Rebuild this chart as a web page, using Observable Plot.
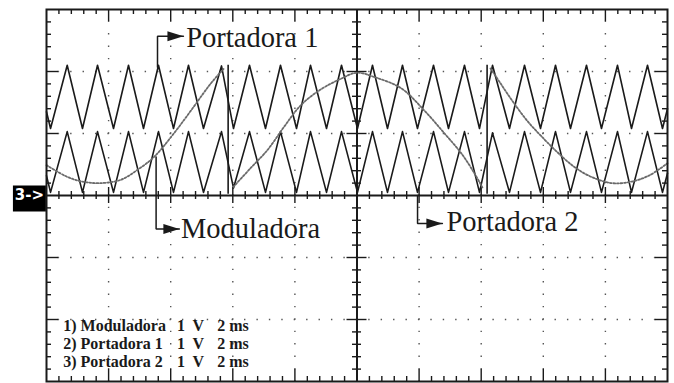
<!DOCTYPE html>
<html><head><meta charset="utf-8">
<script src="https://cdn.jsdelivr.net/npm/d3@7"></script>
<script src="https://cdn.jsdelivr.net/npm/@observablehq/plot@0.6"></script>
<style>html,body{margin:0;padding:0;background:#fff;overflow:hidden}svg{display:block}</style>
</head><body><div id="chart"></div>
<script>
// ---- data (time in ms, 2 ms/div; amplitude in V, 1 V/div) ----
const gridX = [2, 4, 6, 8, 12, 14, 16, 18];
const gridY = [-2, -1, 1, 2];

// carrier extrema times (start, trough, peak, ..., trough, end)
const carrierT = [0, 0.13, 0.667, 1.159, 1.643, 2.158, 2.641, 3.124, 3.607, 4.090, 4.573, 5.056, 5.636, 6.023, 6.538, 7.053, 7.536, 8.052, 8.502, 9.018, 9.501, 10.016, 10.499, 10.982, 11.465, 11.948, 12.464, 12.947, 13.462, 13.945, 14.364, 14.911, 15.395, 15.910, 16.393, 16.876, 17.391, 17.874, 18.390, 18.841, 19.356, 19.839, 20];
const portadora1V = [1.35, 1.08, 2.10, 1.08, 2.10, 1.08, 2.10, 1.08, 2.10, 1.08, 2.10, 1.08, 2.09, 1.08, 2.10, 1.08, 2.10, 1.08, 2.10, 1.08, 2.10, 1.08, 2.10, 1.08, 2.10, 1.08, 2.10, 1.08, 2.10, 1.08, 2.10, 1.08, 2.10, 1.08, 2.10, 1.08, 2.10, 1.08, 2.10, 1.08, 2.10, 1.08, 1.40];
const portadora2V = [0.32, 0.05, 1.03, 0.05, 1.03, 0.05, 1.03, 0.05, 1.03, 0.05, 1.03, 0.05, 1.03, 0.12, 1.03, 0.05, 1.03, 0.05, 1.03, 0.05, 1.03, 0.05, 1.03, 0.05, 1.03, 0.05, 1.03, 0.05, 1.03, 0.05, 1.01, 0.05, 1.03, 0.05, 1.03, 0.05, 1.03, 0.05, 1.03, 0.05, 1.03, 0.05, 0.36];
// vertical jumps of the traces
const saltosT = [5.85, 14.19];

// modulating signal, three captured segments
const modA_T = [0, 0.67, 1.2, 1.74, 2.38, 2.92, 3.46, 4.1, 4.74, 5.28, 5.7];
const modA_V = [0.49, 0.30, 0.22, 0.20, 0.25, 0.41, 0.62, 1.0, 1.43, 1.8, 2.04];
const modB_T = [6.02, 6.57, 7.11, 7.64, 8.18, 8.8, 9.47, 10.0, 10.56, 11.42, 12.17, 12.82, 13.36, 13.78, 14.05];
const modB_V = [0.14, 0.44, 0.73, 1.1, 1.45, 1.7, 1.88, 1.98, 1.91, 1.73, 1.37, 1.0, 0.68, 0.36, 0.12];
const modC_T = [14.3, 14.62, 15.04, 15.49, 15.91, 16.45, 17.0, 17.55, 18.2, 18.8, 19.4, 20];
const modC_V = [2.05, 1.81, 1.5, 1.2, 0.97, 0.7, 0.46, 0.3, 0.2, 0.22, 0.32, 0.52];

// annotations
const labels = ["Portadora 1", "Moduladora", "Portadora 2"];
const labelStemT = [3.575, 3.53, 11.95];
const labelStemFrom = [2.07, 0.62, 0];
const labelStemTo = [2.57, -0.54, -0.45];
const labelTipT = [4.41, 4.28, 12.75];
const labelTextT = [4.5, 4.33, 12.88];
const labelTextV = [2.54, -0.54, -0.43];

// channel legend
const legendNames = ["1) Moduladora", "2) Portadora 1", "3) Portadora 2"];
const legendVolts = ["1", "1", "1"];
const legendUnits = ["V", "V", "V"];
const legendTimes = ["2 ms", "2 ms", "2 ms"];
const legendV = [-2.10, -2.40, -2.68];
const channelMarker = "3->";

// ---- derived tables ----
const carriers = carrierT.flatMap((t, i) => [
  {serie: "Portadora 1", t, v: portadora1V[i]},
  {serie: "Portadora 2", t, v: portadora2V[i]}
]);
const moduladora = [
  ...modA_T.map((t, i) => ({seg: "A", t, v: modA_V[i]})),
  ...modB_T.map((t, i) => ({seg: "B", t, v: modB_V[i]})),
  ...modC_T.map((t, i) => ({seg: "C", t, v: modC_V[i]}))
];
const pointers = labels.flatMap((l, i) => [
  {l, t: labelStemT[i], v: labelStemFrom[i]},
  {l, t: labelStemT[i], v: labelStemTo[i]},
  {l, t: labelTipT[i], v: labelStemTo[i]}
]);
const tips = labels.map((l, i) => ({l, t: labelTipT[i], v: labelStemTo[i]}));
const texts = labels.map((l, i) => ({l, t: labelTextT[i], v: labelTextV[i]}));
const legend = legendNames.map((n, i) => ({n, volt: legendVolts[i], unit: legendUnits[i], time: legendTimes[i], v: legendV[i]}));

const minorX = d3.range(1, 50).filter(i => i % 5).map(i => i * 0.4);
const minorY = d3.range(-14, 15).filter(i => i % 5).map(i => i * 0.2);

const W = 674, H = 383, mL = 46, mR = 7, mT = 9, mB = 2;
const iW = W - mL - mR, iH = H - mT - mB;
const ink = "#1a1a1a";

const arrowHead = {draw(ctx) { ctx.moveTo(0, 0); ctx.lineTo(-16, -5); ctx.lineTo(-16, 5); ctx.closePath(); }};
const box = {draw(ctx) { ctx.rect(-16.5, -13, 33, 26); }};

const chart = Plot.plot({
  width: W, height: H,
  marginLeft: mL, marginRight: mR, marginTop: mT, marginBottom: mB,
  x: {domain: [0, 20], axis: null},
  y: {domain: [-3, 3], axis: null},
  style: {background: "white", overflow: "visible"},
  marks: [
    // dotted graticule
    Plot.ruleX(gridX, {stroke: "#555", strokeWidth: 1.4, strokeDasharray: `1.4,${iH / 30 - 1.4}`, strokeDashoffset: 0.7}),
    Plot.ruleY(gridY, {stroke: "#555", strokeWidth: 1.4, strokeDasharray: `1.4,${iW / 50 - 1.4}`, strokeDashoffset: 0.7}),
    // edge ticks
    Plot.ruleX(minorX, {stroke: ink, strokeWidth: 1.4, insetBottom: iH - 5}),
    Plot.ruleX(minorX, {stroke: ink, strokeWidth: 1.4, insetTop: iH - 5}),
    Plot.ruleX(gridX, {stroke: ink, strokeWidth: 1.4, insetBottom: iH - 12}),
    Plot.ruleX(gridX, {stroke: ink, strokeWidth: 1.4, insetTop: iH - 12}),
    Plot.ruleY(minorY, {stroke: ink, strokeWidth: 1.4, insetRight: iW - 5}),
    Plot.ruleY(minorY, {stroke: ink, strokeWidth: 1.4, insetLeft: iW - 5}),
    Plot.ruleY(gridY, {stroke: ink, strokeWidth: 1.4, insetRight: iW - 12}),
    Plot.ruleY(gridY, {stroke: ink, strokeWidth: 1.4, insetLeft: iW - 12}),
    // central axes and their ticks
    Plot.ruleX([10], {stroke: ink, strokeWidth: 2}),
    Plot.ruleY([0], {stroke: ink, strokeWidth: 2}),
    Plot.ruleX(minorX, {y1: 0, y2: 0, insetTop: -4, insetBottom: -4, stroke: ink, strokeWidth: 1.4}),
    Plot.ruleX(gridX, {y1: 0, y2: 0, insetTop: -8, insetBottom: -8, stroke: ink, strokeWidth: 1.4}),
    Plot.ruleY(minorY, {x1: 10, x2: 10, insetLeft: -4.5, insetRight: -4.5, stroke: ink, strokeWidth: 1.4}),
    Plot.ruleY(gridY, {x1: 10, x2: 10, insetLeft: -10, insetRight: -10, stroke: ink, strokeWidth: 1.4}),
    // traces
    Plot.line(carriers, {x: "t", y: "v", z: "serie", stroke: ink, strokeWidth: 1.6}),
    Plot.ruleX(saltosT, {y1: 0.02, y2: 2.1, stroke: ink, strokeWidth: 1.6}),
    Plot.line(moduladora, {x: "t", y: "v", z: "seg", curve: "catmull-rom", stroke: "#6a6a6a", strokeWidth: 1.8, strokeDasharray: "1.8,1.8"}),
    // annotations
    Plot.line(pointers, {x: "t", y: "v", z: "l", stroke: ink, strokeWidth: 1.5, strokeLinejoin: "miter"}),
    Plot.dot(tips, {x: "t", y: "v", symbol: arrowHead, fill: ink, stroke: "none"}),
    Plot.text(texts, {x: "t", y: "v", text: "l", textAnchor: "start", lineAnchor: "middle", fontFamily: "Liberation Serif", fontSize: 28.5, fill: ink}),
    // legend
    Plot.text(legend, {x: 0.54, y: "v", text: "n", textAnchor: "start", lineAnchor: "middle", fontFamily: "Liberation Serif", fontWeight: "bold", fontSize: 16, fill: ink}),
    Plot.text(legend, {x: 4.2, y: "v", text: "volt", textAnchor: "start", lineAnchor: "middle", fontFamily: "Liberation Serif", fontWeight: "bold", fontSize: 16, fill: ink}),
    Plot.text(legend, {x: 4.7, y: "v", text: "unit", textAnchor: "start", lineAnchor: "middle", fontFamily: "Liberation Serif", fontWeight: "bold", fontSize: 16, fill: ink}),
    Plot.text(legend, {x: 5.5, y: "v", text: "time", textAnchor: "start", lineAnchor: "middle", fontFamily: "Liberation Serif", fontWeight: "bold", fontSize: 16, fill: ink}),
    // channel marker
    Plot.dot([channelMarker], {x: -0.55, y: -0.05, symbol: box, fill: "#000", stroke: "none"}),
    Plot.text([channelMarker], {x: -0.55, y: 0, text: d => d, textAnchor: "middle", lineAnchor: "middle", fontFamily: "DejaVu Sans", fontWeight: "bold", fontSize: 15, fill: "#fff"}),
    Plot.frame({stroke: ink, strokeWidth: 2})
  ]
});
document.getElementById("chart").append(chart);
</script>
</body></html>
